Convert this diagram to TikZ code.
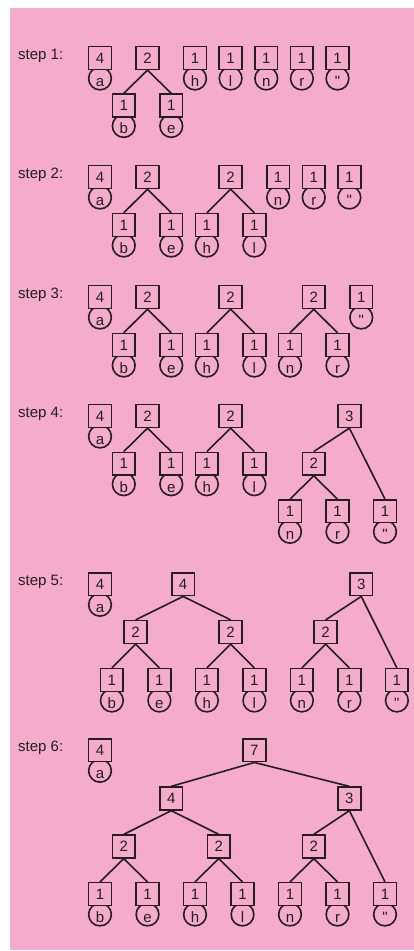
\documentclass[tikz,border=0pt]{standalone}
\usepackage{fontspec}
\newfontfamily\hv{Liberation Sans}[Ligatures=TeXOff]
\definecolor{bgpink}{RGB}{244,171,205}
\definecolor{ink}{RGB}{35,31,32}
\tikzset{
  cnt/.style={draw=ink, fill=bgpink, line width=1.6pt, minimum width=22.7pt, minimum height=22.7pt,
    inner sep=0pt, font=\hv\fontsize{15}{18}\selectfont, text=ink},
  letc/.style={circle, draw=ink, fill=bgpink, line width=1.6pt, minimum size=22.7pt, inner sep=0pt,
    text height=15.6pt, text depth=0pt, font=\hv\fontsize{15}{18}\selectfont, text=ink},
  link/.style={draw=ink, line width=1.6pt},
  steplabel/.style={anchor=base west, inner sep=0pt, font=\hv\fontsize{15}{18}\selectfont, text=ink}
}
% leaf: name, index, y-center, count, letter
\newcommand\lf[5]{%
  \node[letc] (#1c) at ({100+23.75*#2},{-#3-20.5}) {#5};
  \node[cnt] (#1) at ({100+23.75*#2},{-#3}) {#4};}
% inner node: name, index, y-center, count
\newcommand\nd[4]{%
  \node[cnt] (#1) at ({100+23.75*#2},{-#3}) {#4};}
\begin{document}
\begin{tikzpicture}[x=1pt,y=1pt]
\useasboundingbox (0,0) rectangle (414,-951);
\fill[bgpink] (10,-8) rectangle (414,-950);

% ---------- step 1
\node[steplabel] (l1) at (18,-59) {step 1:};
\lf{s1a}{0}{58}{4}{a}
\nd{s1p}{2}{58}{2}
\lf{s1b}{1}{105.5}{1}{b}
\lf{s1e}{3}{105.5}{1}{e}
\lf{s1h}{4}{58}{1}{h}
\lf{s1l}{5.5}{58}{1}{l}
\lf{s1n}{7}{58}{1}{n}
\lf{s1r}{8.5}{58}{1}{r}
\lf{s1q}{10}{58}{1}{"}
\draw[link] (s1p.south) -- (s1b.north);
\draw[link] (s1p.south) -- (s1e.north);

% ---------- step 2
\node[steplabel] (l2) at (18,-178) {step 2:};
\lf{s2a}{0}{177}{4}{a}
\nd{s2p}{2}{177}{2}
\lf{s2b}{1}{225}{1}{b}
\lf{s2e}{3}{225}{1}{e}
\nd{s2u}{5.5}{177}{2}
\lf{s2h}{4.5}{225}{1}{h}
\lf{s2l}{6.5}{225}{1}{l}
\lf{s2n}{7.5}{177}{1}{n}
\lf{s2r}{9}{177}{1}{r}
\lf{s2q}{10.5}{177}{1}{"}
\draw[link] (s2p.south) -- (s2b.north);
\draw[link] (s2p.south) -- (s2e.north);
\draw[link] (s2u.south) -- (s2h.north);
\draw[link] (s2u.south) -- (s2l.north);

% ---------- step 3
\node[steplabel] (l3) at (18,-298) {step 3:};
\lf{s3a}{0}{297}{4}{a}
\nd{s3p}{2}{297}{2}
\lf{s3b}{1}{345}{1}{b}
\lf{s3e}{3}{345}{1}{e}
\nd{s3u}{5.5}{297}{2}
\lf{s3h}{4.5}{345}{1}{h}
\lf{s3l}{6.5}{345}{1}{l}
\nd{s3v}{9}{297}{2}
\lf{s3n}{8}{345}{1}{n}
\lf{s3r}{10}{345}{1}{r}
\lf{s3q}{11}{297}{1}{"}
\draw[link] (s3p.south) -- (s3b.north);
\draw[link] (s3p.south) -- (s3e.north);
\draw[link] (s3u.south) -- (s3h.north);
\draw[link] (s3u.south) -- (s3l.north);
\draw[link] (s3v.south) -- (s3n.north);
\draw[link] (s3v.south) -- (s3r.north);

% ---------- step 4
\node[steplabel] (l4) at (18,-417) {step 4:};
\lf{s4a}{0}{416}{4}{a}
\nd{s4p}{2}{416}{2}
\lf{s4b}{1}{463.7}{1}{b}
\lf{s4e}{3}{463.7}{1}{e}
\nd{s4u}{5.5}{416}{2}
\lf{s4h}{4.5}{463.7}{1}{h}
\lf{s4l}{6.5}{463.7}{1}{l}
\nd{s4t}{10.5}{416}{3}
\nd{s4v}{9}{463.7}{2}
\lf{s4n}{8}{511.3}{1}{n}
\lf{s4r}{10}{511.3}{1}{r}
\lf{s4q}{12}{511.3}{1}{"}
\draw[link] (s4p.south) -- (s4b.north);
\draw[link] (s4p.south) -- (s4e.north);
\draw[link] (s4u.south) -- (s4h.north);
\draw[link] (s4u.south) -- (s4l.north);
\draw[link] (s4t.south) -- (s4v.north);
\draw[link] (s4t.south) -- (s4q.north);
\draw[link] (s4v.south) -- (s4n.north);
\draw[link] (s4v.south) -- (s4r.north);

% ---------- step 5
\node[steplabel] (l5) at (18,-585.3) {step 5:};
\lf{s5a}{0}{584.3}{4}{a}
\nd{s5f}{3.5}{584.3}{4}
\nd{s5p}{1.5}{632}{2}
\nd{s5u}{5.5}{632}{2}
\lf{s5b}{0.5}{680}{1}{b}
\lf{s5e}{2.5}{680}{1}{e}
\lf{s5h}{4.5}{680}{1}{h}
\lf{s5l}{6.5}{680}{1}{l}
\nd{s5t}{11}{584.3}{3}
\nd{s5v}{9.5}{632}{2}
\lf{s5n}{8.5}{680}{1}{n}
\lf{s5r}{10.5}{680}{1}{r}
\lf{s5q}{12.5}{680}{1}{"}
\draw[link] (s5f.south) -- (s5p.north);
\draw[link] (s5f.south) -- (s5u.north);
\draw[link] (s5p.south) -- (s5b.north);
\draw[link] (s5p.south) -- (s5e.north);
\draw[link] (s5u.south) -- (s5h.north);
\draw[link] (s5u.south) -- (s5l.north);
\draw[link] (s5t.south) -- (s5v.north);
\draw[link] (s5t.south) -- (s5q.north);
\draw[link] (s5v.south) -- (s5n.north);
\draw[link] (s5v.south) -- (s5r.north);

% ---------- step 6
\node[steplabel] (l6) at (18,-751.3) {step 6:};
\lf{s6a}{0}{750.3}{4}{a}
\nd{s6s}{6.5}{750.3}{7}
\nd{s6f}{3}{798.5}{4}
\nd{s6t}{10.5}{798.5}{3}
\nd{s6p}{1}{846.5}{2}
\nd{s6u}{5}{846.5}{2}
\nd{s6v}{9}{846.5}{2}
\lf{s6b}{0}{894}{1}{b}
\lf{s6e}{2}{894}{1}{e}
\lf{s6h}{4}{894}{1}{h}
\lf{s6l}{6}{894}{1}{l}
\lf{s6n}{8}{894}{1}{n}
\lf{s6r}{10}{894}{1}{r}
\lf{s6q}{12}{894}{1}{"}
\draw[link] (s6s.south) -- (s6f.north);
\draw[link] (s6s.south) -- (s6t.north);
\draw[link] (s6f.south) -- (s6p.north);
\draw[link] (s6f.south) -- (s6u.north);
\draw[link] (s6t.south) -- (s6v.north);
\draw[link] (s6t.south) -- (s6q.north);
\draw[link] (s6p.south) -- (s6b.north);
\draw[link] (s6p.south) -- (s6e.north);
\draw[link] (s6u.south) -- (s6h.north);
\draw[link] (s6u.south) -- (s6l.north);
\draw[link] (s6v.south) -- (s6n.north);
\draw[link] (s6v.south) -- (s6r.north);
\end{tikzpicture}
\end{document}
